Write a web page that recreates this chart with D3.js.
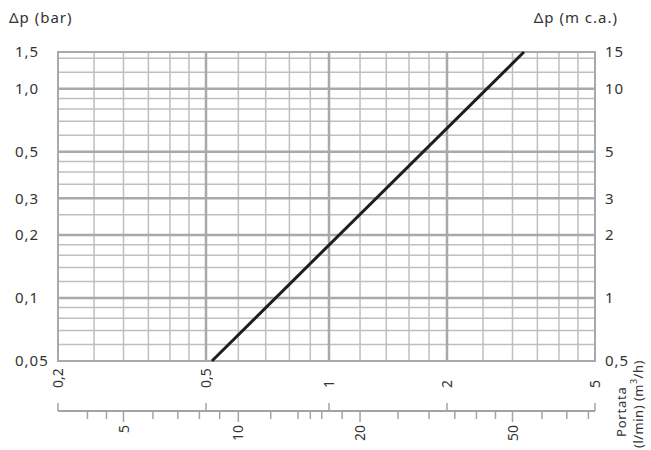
<!DOCTYPE html>
<html>
<head>
<meta charset="utf-8">
<script src="https://cdn.jsdelivr.net/npm/d3@7/dist/d3.min.js"></script>
<style>
  body { margin: 0; background: #fff; }
  svg text { font-family: "Noto Sans", "DejaVu Sans", sans-serif; fill: #333; }
</style>
</head>
<body>
<div id="chart"></div>
<script>
var width = 651, height = 450;

// curve: flow (m3/h) vs pressure drop (bar), end points of the straight line
var flowM3h = [0.517, 3.22];
var dpBar = [0.05, 1.5];

// y grid / ticks
var yTicks = [0.05, 0.1, 0.2, 0.3, 0.5, 1.0, 1.5];
var yTickLabels = ["0,05", "0,1", "0,2", "0,3", "0,5", "1,0", "1,5"];
var yRightLabels = ["0,5", "1", "2", "3", "5", "10", "15"];
var yMajor = [0.1, 0.2, 0.3, 0.5, 1.0];
var yMinor = [0.06, 0.07, 0.08, 0.09, 0.12, 0.14, 0.16, 0.18, 0.25,
              0.35, 0.4, 0.45, 0.6, 0.7, 0.8, 0.9, 1.2, 1.4];

// x grid / ticks (m3/h)
var xTicks = [0.2, 0.5, 1, 2, 5];
var xTickLabels = ["0,2", "0,5", "1", "2", "5"];
var xMajor = [0.5, 1, 2];
var xMinor = [0.25, 0.3, 0.35, 0.4, 0.45, 0.6, 0.7, 0.8, 0.9,
              1.2, 1.4, 1.6, 1.8, 2.5, 3, 3.5, 4, 4.5];

// secondary flow axis (l/min)
var lminTicks = [4, 4.5, 5, 6, 7, 8, 9, 10, 12, 14, 15, 16, 18, 20,
                 25, 30, 35, 40, 45, 50, 60, 70, 80];
var lminLabels = [5, 10, 20, 50];
var LMIN_PER_M3H = 1000 / 60;

var plot = {left: 58, right: 595, top: 52, bottom: 361};
var axisY = 411;

// the printed grid is not a perfect log grid, so fit it piecewise
var x = d3.scaleLog()
    .domain([0.2, 0.5, 1, 2, 5])
    .range([plot.left, 206, 329, 447, plot.right]);

var y = d3.scaleLog()
    .domain([0.05, 1.5])
    .range([plot.bottom, plot.top]);

var svg = d3.select("#chart").append("svg")
    .attr("width", width)
    .attr("height", height);

var grid = svg.append("g");

grid.selectAll("line.hminor").data(yMinor).enter().append("line")
    .attr("x1", plot.left).attr("x2", plot.right)
    .attr("y1", function(d) { return y(d); })
    .attr("y2", function(d) { return y(d); })
    .attr("stroke", "#bfbfc2").attr("stroke-width", 1.5);

grid.selectAll("line.vminor").data(xMinor).enter().append("line")
    .attr("y1", plot.top).attr("y2", plot.bottom)
    .attr("x1", function(d) { return x(d); })
    .attr("x2", function(d) { return x(d); })
    .attr("stroke", "#bfbfc2").attr("stroke-width", 1.5);

grid.selectAll("line.hmajor").data(yMajor).enter().append("line")
    .attr("x1", plot.left).attr("x2", plot.right)
    .attr("y1", function(d) { return y(d); })
    .attr("y2", function(d) { return y(d); })
    .attr("stroke", "#a9a9ad").attr("stroke-width", 2.5);

grid.selectAll("line.vmajor").data(xMajor).enter().append("line")
    .attr("y1", plot.top).attr("y2", plot.bottom)
    .attr("x1", function(d) { return x(d); })
    .attr("x2", function(d) { return x(d); })
    .attr("stroke", "#a9a9ad").attr("stroke-width", 2.5);

grid.append("rect")
    .attr("x", plot.left).attr("y", plot.top)
    .attr("width", plot.right - plot.left)
    .attr("height", plot.bottom - plot.top)
    .attr("fill", "none")
    .attr("stroke", "#a9a9ad").attr("stroke-width", 2);

// curve
var line = d3.line()
    .x(function(d) { return x(d[0]); })
    .y(function(d) { return y(d[1]); });

svg.append("path")
    .datum(d3.zip(flowM3h, dpBar))
    .attr("d", line)
    .attr("fill", "none")
    .attr("stroke", "#1e1e1e")
    .attr("stroke-width", 3);

// left / right labels
svg.selectAll("text.yl").data(yTicks).enter().append("text")
    .attr("x", 15)
    .attr("y", function(d) { return y(d); })
    .attr("dy", "0.36em")
    .style("font-size", "15px")
    .style("letter-spacing", "1px")
    .text(function(d, i) { return yTickLabels[i]; });

svg.selectAll("text.yr").data(yTicks).enter().append("text")
    .attr("x", 605)
    .attr("y", function(d) { return y(d); })
    .attr("dy", "0.36em")
    .style("font-size", "15px")
    .style("letter-spacing", "1px")
    .text(function(d, i) { return yRightLabels[i]; });

svg.append("text")
    .attr("x", 9).attr("y", 23)
    .style("font-size", "15px")
    .style("letter-spacing", "1px")
    .text("\u0394p (bar)");

svg.append("text")
    .attr("x", 618).attr("y", 23)
    .attr("text-anchor", "end")
    .style("font-size", "15px")
    .style("letter-spacing", "1px")
    .text("\u0394p (m c.a.)");

// flow axis
var ax = svg.append("g");

ax.append("line")
    .attr("x1", x(0.2)).attr("x2", x(5))
    .attr("y1", axisY).attr("y2", axisY)
    .attr("stroke", "#a3a3a6").attr("stroke-width", 2);

ax.selectAll("line.up").data(xTicks).enter().append("line")
    .attr("x1", function(d) { return x(d); })
    .attr("x2", function(d) { return x(d); })
    .attr("y1", axisY - 8).attr("y2", axisY)
    .attr("stroke", "#a3a3a6").attr("stroke-width", 1.5);

ax.selectAll("line.down").data(lminTicks).enter().append("line")
    .attr("x1", function(d) { return x(d / LMIN_PER_M3H); })
    .attr("x2", function(d) { return x(d / LMIN_PER_M3H); })
    .attr("y1", axisY)
    .attr("y2", function(d) { return axisY + (lminLabels.indexOf(d) >= 0 ? 11 : 8); })
    .attr("stroke", "#a3a3a6").attr("stroke-width", 1.5);

ax.selectAll("text.up").data(xTicks).enter().append("text")
    .attr("transform", function(d) { return "translate(" + x(d) + "," + 388 + ") rotate(-90)"; })
    .attr("dy", "0.36em")
    .style("font-size", "14px")
    .text(function(d, i) { return xTickLabels[i]; });

ax.selectAll("text.down").data(lminLabels).enter().append("text")
    .attr("transform", function(d) { return "translate(" + x(d / LMIN_PER_M3H) + "," + 425 + ") rotate(-90)"; })
    .attr("text-anchor", "end")
    .attr("dy", "0.36em")
    .style("font-size", "14px")
    .text(function(d) { return d; });

var ttl = svg.append("text")
    .attr("transform", "translate(626,437) rotate(-90)")
    .style("font-size", "13px")
    .style("letter-spacing", "0.8px");
ttl.append("tspan").text("Portata");

var ttl2 = svg.append("text")
    .attr("transform", "translate(643,448) rotate(-90)")
    .style("font-size", "13px")
    .style("letter-spacing", "0.5px");
ttl2.append("tspan").text("(l/min)  (m");
ttl2.append("tspan").attr("baseline-shift", "super").style("font-size", "9px").text("3");
ttl2.append("tspan").text("/h)");
</script>
</body>
</html>
